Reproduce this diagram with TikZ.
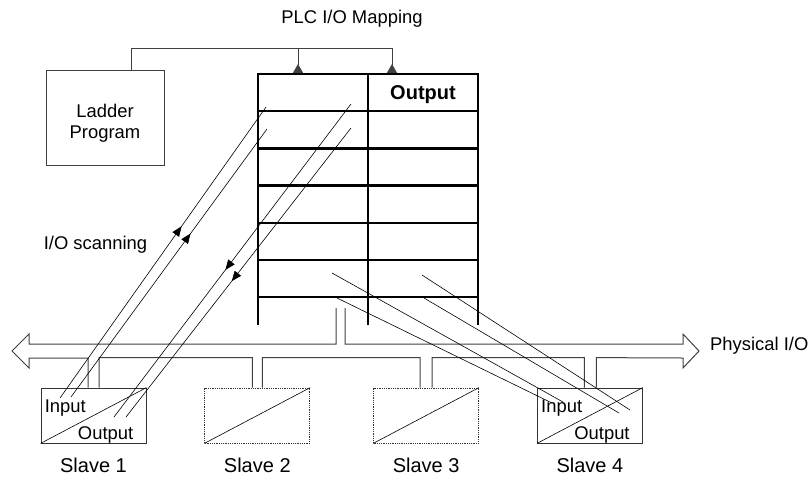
\documentclass[tikz,border=0pt]{standalone}
\usepackage{fontspec}
\setmainfont{Liberation Sans}
\usetikzlibrary{arrows.meta,positioning,calc,decorations.markings}

\begin{document}
\begin{tikzpicture}[
      x=1pt, y=-1pt,
      txt/.style={font=\fontsize{18.4}{21}\selectfont, inner sep=0pt},
      slavetxt/.style={font=\fontsize{20}{24}\selectfont, inner sep=0pt},
      slavebox/.style={draw=black!80, line width=0.8pt, minimum width=105pt, minimum height=55pt, inner sep=0pt},
      ghost/.style={slavebox, densely dotted},
      frame/.style={draw=black!75, line width=0.9pt},
      tab/.style={line width=2.4pt},
      bus/.style={draw=black!75, line width=1pt},
      scan/.style={line width=0.6pt},
      midtip/.style={postaction={decorate}, decoration={markings, mark=at position #1 with {\arrow{Triangle[length=10pt,width=8pt]}}}},
      >={Triangle[reversed,length=9pt,width=10pt]}
    ]
    \useasboundingbox (0,0) rectangle (810,480);

    \node[txt, anchor=base] (title) at (352,23) {PLC I/O Mapping};

    % ladder program and mapping table
    \node[frame, minimum width=118pt, minimum height=95pt] (lad) at (105,117.5) {};
    \node[txt, align=center] (ladtxt) at ($(lad.center)+(0,5.5)$) {Ladder\\Program};

    \draw[tab] (258,325) |- (478,74) -- (478,325);
    \draw[tab] (368,74) -- (368,325);
    \foreach \r in {1,...,6}
      \draw[tab] (258,74+37.2*\r) -- (478,74+37.2*\r);
    \node[txt, font=\bfseries\fontsize{20}{24}\selectfont, anchor=base] (outhd) at (423,99) {Output};

    \coordinate (mapIn) at (298,73);
    \coordinate (mapOut) at (392,73);
    \draw[frame, ->] ($(lad.north)+(26,0)$) |- (392,48) -- (mapOut);
    \draw[frame, ->] (mapIn |- 0,48) -- (mapIn);

    % slaves
    \node[slavebox] (s1) at (93.5,415.5) {};
    \node[ghost, right=58pt of s1] (s2) {};
    \node[ghost, right=63pt of s2] (s3) {};
    \node[slavebox, right=58pt of s3] (s4) {};
    \foreach \s/\n in {s1/1,s2/2,s3/3,s4/4} {
      \draw[scan] (\s.south west) -- (\s.north east);
      \node[slavetxt, anchor=base] (\s lbl) at ($(\s.south)+(0,29)$) {Slave \n};
    }
    \foreach \s in {s1,s4} {
      \node[txt, anchor=base west] (\s in) at ($(\s.north west)+(4,25)$) {Input};
      \node[txt, anchor=base east] (\s out) at ($(\s.south east)+(-13,-4)$) {Output};
    }

    % bus
    \draw[bus] (336,308) |- (29,344) -- (29,334) -- (12,351) -- (29,368) -- (29,358)
        -| ($(s1.north)+(-5.5,0)$)
      ($(s1.north)+(5.5,0)$) -- ++(0,-30) -| ($(s2.north)+(-5,0)$)
      ($(s2.north)+(5,0)$) -- ++(0,-30) -| ($(s3.north)+(-6,0)$)
      ($(s3.north)+(6,0)$) -- ++(0,-30) -| ($(s4.north)+(-5.5,0)$)
      ($(s4.north)+(6.5,0)$) -- ++(0,-30) -- (683,358) -- (683,368) -- (699,351)
        -- (683,334) -- (683,344) -| (345,308);
    \node[txt, anchor=base west] (phys) at (710,350) {Physical I/O};

    % scanning
    \coordinate (inA) at (60,398);   \coordinate (mapA) at (266,107);
    \coordinate (inB) at (71,397);   \coordinate (mapB) at (267,129);
    \coordinate (mapC) at (351,104); \coordinate (outC) at (114,417);
    \coordinate (mapD) at (351,128); \coordinate (outD) at (126,417);
    \coordinate (mapE) at (332,273); \coordinate (inE) at (563,402);
    \coordinate (mapF) at (337,298); \coordinate (inF) at (552,403);
    \coordinate (mapG) at (422,275); \coordinate (outG) at (630,410);
    \coordinate (mapH) at (424,298); \coordinate (outH) at (619,413);

    \draw[scan, midtip=0.59] (inA) -- (mapA);
    \draw[scan, midtip=0.61] (inB) -- (mapB);
    \draw[scan, midtip=0.53] (mapC) -- (outC);
    \draw[scan, midtip=0.53] (mapD) -- (outD);
    \draw[scan] (mapE) -- (inE);
    \draw[scan] (mapF) -- (inF);
    \draw[scan] (mapG) -- (outG);
    \draw[scan] (mapH) -- (outH);
    \node[txt, anchor=base] (scanlbl) at (95.5,249) {I/O scanning};
  \end{tikzpicture}
\end{document}
